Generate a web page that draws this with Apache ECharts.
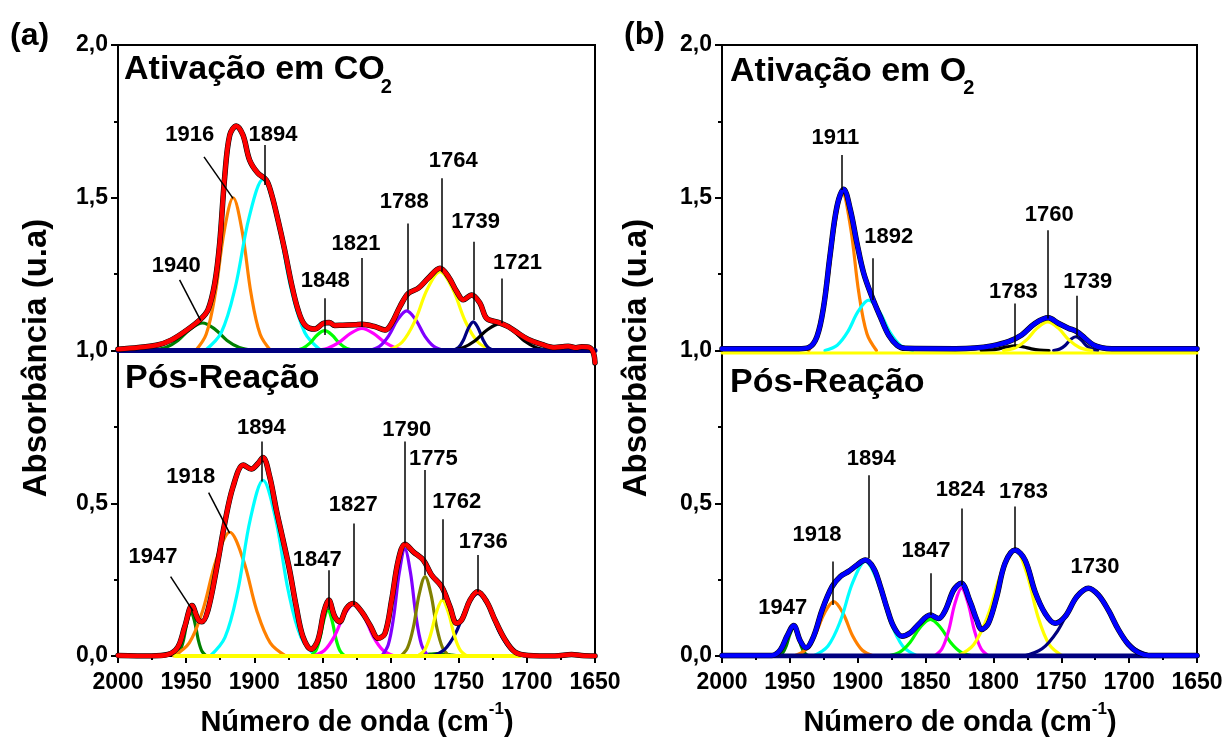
<!DOCTYPE html>
<html><head><meta charset="utf-8">
<script src="https://cdn.jsdelivr.net/npm/echarts@6/dist/echarts.min.js"></script>
<style>html,body{margin:0;padding:0;background:#fff}#c{width:1225px;height:740px}</style>
</head><body><div id="c"></div>
<script>
// ===================== DATA =====================
const xTicks = [2000, 1950, 1900, 1850, 1800, 1750, 1700, 1650];
const yTicks = [0, 0.5, 1.0, 1.5, 2.0];
const yTickLabels = ['0,0', '0,5', '1,0', '1,5', '2,0'];
const topOffset = 1.0;   // upper spectra are shifted by +1,0

// ---- Panel (a), top: Ativação em CO2 (values relative to the 1,0 offset) ----
const a1Exp = [[2000,0.004],[1985,0.01],[1971,0.018],[1961,0.034],[1951,0.062],[1940,0.1],[1934,0.133],[1929,0.22],[1925.4,0.35],[1921.7,0.569],[1918,0.705],[1913.2,0.735],[1908.3,0.705],[1903.4,0.623],[1897.3,0.58],[1891.2,0.558],[1887.5,0.514],[1882.6,0.427],[1877.7,0.329],[1872.8,0.22],[1867.9,0.133],[1863,0.084],[1855.7,0.07],[1849.6,0.088],[1845,0.092],[1841,0.082],[1835,0.083],[1826.1,0.084],[1821.2,0.086],[1811.4,0.078],[1804.1,0.067],[1799.2,0.089],[1793.1,0.144],[1787,0.187],[1779.6,0.204],[1772.3,0.237],[1763.7,0.269],[1757.6,0.242],[1751.5,0.193],[1746.6,0.166],[1740.5,0.182],[1734.4,0.155],[1729.5,0.105],[1720.9,0.092],[1713.6,0.078],[1706.3,0.056],[1698.9,0.036],[1689.1,0.02],[1679.4,0.01],[1674,0.012],[1669.6,0.014],[1664,0.009],[1659.8,0.012],[1653.7,0.009],[1651,-0.01],[1650,-0.04]];
const a1c1940 = [[1975.5,0],[1965,0.0095],[1956,0.033],[1947,0.07],[1938,0.09],[1929,0.07],[1920,0.033],[1911,0.0095],[1900.5,0]];
const a1c1916 = [[1943,0],[1935.3,0.053],[1928.7,0.184],[1922.1,0.39],[1915.5,0.5],[1908.9,0.39],[1902.3,0.184],[1895.7,0.053],[1888,0]];
const a1c1894 = [[1936.1,0],[1924.2,0.059],[1914,0.206],[1903.8,0.436],[1893.6,0.56],[1883.4,0.436],[1873.2,0.206],[1863,0.059],[1851.1,0]];
const a1c1848 = [[1870.9,0],[1864.6,0.0069],[1859.2,0.024],[1853.8,0.051],[1848.4,0.065],[1843,0.051],[1837.6,0.024],[1832.2,0.0069],[1825.9,0]];
const a1c1821 = [[1856,0],[1846.2,0.0076],[1837.8,0.0265],[1829.4,0.056],[1821,0.072],[1812.6,0.056],[1804.2,0.0265],[1795.8,0.0076],[1786,0]];
const a1c1788 = [[1815.7,0],[1808,0.0138],[1801.4,0.048],[1794.8,0.101],[1788.2,0.13],[1781.6,0.101],[1775,0.048],[1768.4,0.0138],[1760.7,0]];
const a1c1764 = [[1802.5,0],[1791.6,0.027],[1782.3,0.095],[1773,0.201],[1763.7,0.258],[1754.4,0.201],[1745.1,0.095],[1735.8,0.027],[1725,0]];
const a1c1739 = [[1754.3,0],[1750.1,0.01],[1746.5,0.0346],[1742.9,0.073],[1739.3,0.094],[1735.7,0.073],[1732.1,0.0346],[1728.5,0.01],[1724.3,0]];
const a1c1721 = [[1757.5,0],[1747,0.0092],[1738,0.032],[1729,0.068],[1720,0.087],[1711,0.068],[1702,0.032],[1693,0.0092],[1682.5,0]];
const a1Base = [[2000,0],[1650,0]];

// ---- Panel (a), bottom: Pós-Reação ----
const a2Exp = [[2000,0.002],[1975.5,0],[1963.3,0.005],[1956,0.03],[1951.1,0.095],[1945.7,0.165],[1941.3,0.12],[1938.4,0.112],[1934,0.15],[1927.9,0.281],[1921.7,0.434],[1915.6,0.554],[1908,0.625],[1902.2,0.612],[1897.3,0.63],[1893.6,0.65],[1888.7,0.587],[1883.8,0.478],[1878.9,0.38],[1874.1,0.281],[1869.2,0.161],[1864.3,0.063],[1858.2,0.022],[1853.3,0.052],[1848.9,0.145],[1845.4,0.183],[1841,0.129],[1837.4,0.112],[1832.5,0.155],[1827.6,0.172],[1821.2,0.145],[1815.1,0.101],[1809,0.058],[1804.1,0.074],[1799.2,0.183],[1794.3,0.314],[1789.4,0.366],[1783.3,0.341],[1776,0.314],[1769.9,0.265],[1762.5,0.227],[1756.4,0.161],[1751.5,0.107],[1747.8,0.118],[1741.7,0.183],[1736.1,0.21],[1729.5,0.178],[1723.4,0.118],[1716.1,0.054],[1708.7,0.013],[1698.9,0.002],[1679.4,0],[1667.1,0.005],[1660,0.002],[1650,0]];
const a2c1947 = [[1957.75,0],[1954.6,0.0154],[1951.9,0.053],[1949.2,0.113],[1946.5,0.145],[1943.8,0.113],[1941.1,0.053],[1938.4,0.0154],[1935.25,0]];
const a2c1918 = [[1959.25,0],[1947.7,0.043],[1937.8,0.149],[1927.9,0.315],[1918,0.405],[1908.1,0.315],[1898.2,0.149],[1888.3,0.043],[1876.75,0]];
const a2c1894 = [[1932.35,0],[1921.5,0.061],[1912.2,0.212],[1902.9,0.448],[1893.6,0.575],[1884.3,0.448],[1875,0.212],[1865.7,0.061],[1854.85,0]];
const a2c1847 = [[1858.5,0],[1855,0.016],[1852,0.055],[1849,0.117],[1846,0.15],[1843,0.117],[1840,0.055],[1837,0.016],[1833.5,0]];
const a2c1827 = [[1857,0],[1848.6,0.018],[1841.4,0.0626],[1834.2,0.132],[1827,0.17],[1819.8,0.132],[1812.6,0.0626],[1805.4,0.018],[1797,0]];
const a2c1790 = [[1806.5,0],[1801.7,0.037],[1797.7,0.129],[1793.6,0.273],[1789.5,0.35],[1785.4,0.273],[1781.3,0.129],[1777.3,0.037],[1772.5,0]];
const a2c1775 = [[1792.45,0],[1787.5,0.0276],[1783.2,0.0957],[1779,0.2025],[1774.7,0.26],[1770.4,0.2025],[1766.2,0.0957],[1761.9,0.0276],[1756.95,0]];
const a2c1762 = [[1780.25,0],[1775.1,0.0194],[1770.8,0.0673],[1766.4,0.1426],[1762,0.183],[1757.6,0.1426],[1753.2,0.0673],[1748.9,0.0194],[1743.75,0]];
const a2c1736 = [[1769.75,0],[1760.3,0.0217],[1752.2,0.0754],[1744.1,0.16],[1736,0.205],[1727.9,0.16],[1719.8,0.0754],[1711.7,0.0217],[1702.25,0]];
const a2c1766 = [[1788.5,0],[1782.2,0.0008],[1776.8,0.003],[1771.4,0.006],[1766,0.008],[1760.6,0.006],[1755.2,0.003],[1749.8,0.0008],[1743.5,0]];
const a2Base = [[1958,0],[1705,0]];

// ---- Panel (b), top: Ativação em O2 (relative to the 1,0 offset) ----
const b1Fit = [[2000,0.006],[1943.5,0.006],[1936.1,0.01],[1930,0.046],[1925.1,0.144],[1920.2,0.318],[1915.3,0.471],[1910.3,0.528],[1905.4,0.46],[1900.5,0.35],[1895.6,0.253],[1889.5,0.176],[1883.3,0.11],[1877.2,0.05],[1871,0.017],[1864.9,0.007],[1828,0.006],[1813.6,0.008],[1801.3,0.015],[1789,0.029],[1779.2,0.051],[1769.3,0.089],[1759.5,0.107],[1752.2,0.089],[1744.8,0.073],[1738.6,0.062],[1732.5,0.04],[1726.4,0.018],[1720.2,0.009],[1712.9,0.006],[1650,0.006]];
const b1c1911 = [[1936.2,0],[1929.2,0.0546],[1923.2,0.1895],[1917.2,0.401],[1911.2,0.515],[1905.2,0.401],[1899.2,0.1895],[1893.2,0.0546],[1886.2,0]];
const b1c1892 = [[1924.15,0],[1915.1,0.0175],[1907.4,0.0607],[1899.6,0.1285],[1891.9,0.165],[1884.2,0.1285],[1876.4,0.0607],[1868.7,0.0175],[1859.65,0]];
const b1c1783 = [[1809,0],[1802,0.0016],[1796,0.0055],[1790,0.0117],[1784,0.015],[1778,0.0117],[1772,0.0055],[1766,0.0016],[1759,0]];
const b1c1760 = [[1792.5,0],[1783.4,0.01],[1775.6,0.0346],[1767.8,0.0732],[1760,0.094],[1752.2,0.0732],[1744.4,0.0346],[1736.6,0.01],[1727.5,0]];
const b1c1739 = [[1755.65,0],[1751.1,0.0048],[1747.2,0.0166],[1743.3,0.035],[1739.4,0.045],[1735.5,0.035],[1731.6,0.0166],[1727.7,0.0048],[1723.15,0]];
const b1Base = [[2000,-0.008],[1650,-0.008]];

// ---- Panel (b), bottom: Pós-Reação ----
const b2Fit = [[2000,0.002],[1963.2,0.002],[1957,0.02],[1952.1,0.065],[1947.2,0.1],[1942.3,0.049],[1938.1,0.027],[1932.4,0.065],[1926.3,0.15],[1918.9,0.227],[1912.8,0.26],[1906.7,0.277],[1900.5,0.298],[1894.4,0.314],[1888.2,0.287],[1883.3,0.227],[1878.4,0.156],[1873.5,0.096],[1867.4,0.065],[1861.2,0.076],[1855.1,0.104],[1846.5,0.134],[1840.3,0.123],[1835.4,0.15],[1829.3,0.216],[1823.8,0.238],[1817.2,0.178],[1812.3,0.118],[1808.7,0.087],[1803.7,0.107],[1797.6,0.194],[1791.5,0.303],[1784.1,0.347],[1776.7,0.314],[1769.3,0.21],[1762,0.14],[1754.6,0.107],[1747.2,0.129],[1738.6,0.194],[1730,0.222],[1722.7,0.2],[1715.3,0.15],[1708,0.087],[1700.6,0.038],[1693.2,0.011],[1685.8,0.002],[1650,0.002]];
const b2c1947 = [[1958.45,0],[1955.3,0.0098],[1952.6,0.0339],[1949.9,0.0717],[1947.2,0.092],[1944.5,0.0717],[1941.8,0.0339],[1939.1,0.0098],[1935.95,0]];
const b2c1918 = [[1946.95,0],[1938.8,0.0189],[1931.7,0.0655],[1924.7,0.1387],[1917.7,0.178],[1910.7,0.1387],[1903.7,0.0655],[1896.6,0.0189],[1888.45,0]];
const b2c1894 = [[1932.65,0],[1921.9,0.0329],[1912.8,0.114],[1903.6,0.2415],[1894.4,0.31],[1885.2,0.2415],[1876,0.114],[1866.9,0.0329],[1856.15,0]];
const b2c1847 = [[1877.75,0],[1869,0.0127],[1861.5,0.0442],[1854,0.0935],[1846.5,0.12],[1839,0.0935],[1831.5,0.0442],[1824,0.0127],[1815.25,0]];
const b2c1824 = [[1843.5,0],[1837.9,0.0235],[1833.1,0.0817],[1828.3,0.173],[1823.5,0.222],[1818.7,0.173],[1813.9,0.0817],[1809.1,0.0235],[1803.5,0]];
const b2c1783 = [[1826.5,0],[1814.6,0.0371],[1804.4,0.1288],[1794.2,0.2727],[1784,0.35],[1775.6,0.2727],[1767.2,0.1288],[1758.8,0.0371],[1749,0]];
const b2c1730 = [[1777.5,0],[1764.2,0.0235],[1752.8,0.0817],[1741.4,0.173],[1730,0.222],[1718.6,0.173],[1707.2,0.0817],[1695.8,0.0235],[1682.5,0]];
const b2Base = [[2000,0],[1650,0]];

// ---- Peak annotations: [text, label wavenumber, label absorbance, pointer from (wn, A), pointer to (wn, A)] ----
const annA = [
  ['1916', 1947.4, 1.705, 1936.9, 1.634, 1915.6, 1.498],
  ['1894', 1886.3, 1.705, 1892.4, 1.673, 1892.4, 1.542],
  ['1940', 1957.2, 1.277, 1954.8, 1.231, 1939.3, 1.098],
  ['1848', 1847.9, 1.229, 1848.4, 1.171, 1848.4, 1.051],
  ['1821', 1825.4, 1.349, 1821, 1.303, 1821, 1.077],
  ['1788', 1789.9, 1.487, 1787.7, 1.416, 1787.7, 1.133],
  ['1764', 1754, 1.621, 1762.5, 1.564, 1762.5, 1.258],
  ['1739', 1737.6, 1.422, 1739.3, 1.356, 1739.3, 1.1],
  ['1721', 1706.8, 1.285, 1718.5, 1.236, 1718.5, 1.089],
  ['1947', 1974.3, 0.325, 1961.4, 0.26, 1945, 0.148],
  ['1918', 1946.7, 0.585, 1933.5, 0.535, 1918.1, 0.402],
  ['1894', 1894.8, 0.745, 1894.8, 0.702, 1894.8, 0.571],
  ['1847', 1853.8, 0.314, 1845.4, 0.281, 1845.4, 0.151],
  ['1827', 1827.4, 0.494, 1826.8, 0.434, 1826.8, 0.167],
  ['1790', 1788.2, 0.74, 1789.4, 0.702, 1789.4, 0.369],
  ['1775', 1768.6, 0.644, 1774.7, 0.609, 1774.7, 0.265],
  ['1762', 1751.5, 0.505, 1762, 0.448, 1762, 0.184],
  ['1736', 1732, 0.374, 1736.1, 0.331, 1736.1, 0.21]
];
const annB = [
  ['1911', 1916.5, 1.695, 1911.6, 1.64, 1911.6, 1.525],
  ['1892', 1877.2, 1.373, 1889, 1.302, 1889, 1.165],
  ['1760', 1758.8, 1.444, 1760, 1.394, 1760, 1.105],
  ['1783', 1785.3, 1.193, 1784.1, 1.154, 1784.1, 1.012],
  ['1739', 1730.5, 1.225, 1738.6, 1.179, 1738.6, 1.045],
  ['1947', 1955.3, 0.156],
  ['1918', 1930, 0.396, 1918.4, 0.309, 1918.4, 0.167],
  ['1894', 1890, 0.644, 1891.9, 0.592, 1891.9, 0.32],
  ['1847', 1849.7, 0.345, 1846.5, 0.271, 1846.5, 0.134],
  ['1824', 1824.5, 0.543, 1823.4, 0.483, 1823.4, 0.232],
  ['1783', 1777.9, 0.538, 1784.1, 0.489, 1784.1, 0.352],
  ['1730', 1725.1, 0.292]
];

// ===================== STYLE / BUILD =====================
const FONT = '"Liberation Sans", Arial, "DejaVu Sans", sans-serif';
const C = {
  dgreen: '#008000', orange: '#FF8000', cyan: '#00FFFF', lime: '#00FF00', magenta: '#FF00FF',
  violet: '#8000FF', yellow: '#FFFF00', navy: '#000080', black: '#000000', olive: '#808000',
  red: '#FF0000', blue: '#0000FF'
};

const panels = [
  { grid: 0, spectra: [
      { offset: topOffset, comps: [[a1c1940,C.dgreen],[a1c1916,C.orange],[a1c1894,C.cyan],[a1c1848,C.lime],[a1c1821,C.magenta],[a1c1788,C.violet],[a1c1764,C.yellow],[a1c1739,C.navy],[a1c1721,C.black]],
        base: [a1Base, C.navy, 5], env: [a1Exp, C.red] },
      { offset: 0, comps: [[a2c1766,C.dgreen],[a2c1947,C.dgreen],[a2c1918,C.orange],[a2c1894,C.cyan],[a2c1847,C.lime],[a2c1827,C.magenta],[a2c1790,C.violet],[a2c1775,C.olive],[a2c1736,C.navy],[a2c1762,C.yellow]],
        base: [a2Base, C.yellow, 4], env: [a2Exp, C.red] }
    ], ann: annA },
  { grid: 1, spectra: [
      { offset: topOffset, comps: [[b1c1911,C.orange],[b1c1892,C.cyan],[b1c1783,C.black],[b1c1739,C.navy],[b1c1760,C.yellow]],
        base: [b1Base, C.yellow, 3], env: [b1Fit, C.blue] },
      { offset: 0, comps: [[b2c1947,C.dgreen],[b2c1918,C.orange],[b2c1894,C.cyan],[b2c1847,C.lime],[b2c1824,C.magenta],[b2c1783,C.yellow],[b2c1730,C.navy]],
        base: [b2Base, C.navy, 5], env: [b2Fit, C.blue] }
    ], ann: annB }
];

const series = [];
function lineSeries(g, pts, off, color, width, z) {
  return { type: 'line', xAxisIndex: g, yAxisIndex: g, data: pts.map(p => [p[0], p[1] + off]),
    symbol: 'none', smooth: 0.35, lineStyle: { color, width, cap: 'round', join: 'round' },
    z, silent: true, animation: false };
}
panels.forEach(P => {
  P.spectra.forEach(S => {
    S.comps.forEach(([pts, col]) => series.push(lineSeries(P.grid, pts, S.offset, col, 3.2, 2)));
    series.push(lineSeries(P.grid, S.base[0], S.offset, S.base[1], S.base[2], 3));
    series.push(lineSeries(P.grid, S.env[0], S.offset, C.black, 5.5, 4));   // black trace underneath
    series.push(lineSeries(P.grid, S.env[0], S.offset, S.env[1], 4.5, 5));
  });
  series.push({ type: 'lines', coordinateSystem: 'cartesian2d', xAxisIndex: P.grid, yAxisIndex: P.grid,
    data: P.ann.filter(a => a.length > 3).map(a => ({ coords: [[a[3], a[4]], [a[5], a[6]]] })),
    lineStyle: { color: '#000', width: 1.5, opacity: 1, curveness: 0 }, z: 8, silent: true, animation: false });
  series.push({ type: 'scatter', xAxisIndex: P.grid, yAxisIndex: P.grid,
    data: P.ann.map(a => [a[1], a[2], a[0]]), symbolSize: 1, itemStyle: { color: '#fff', opacity: 1 },
    label: { show: true, position: 'inside', formatter: p => p.data[2], color: '#000', opacity: 1,
      textBorderWidth: 0, textShadowBlur: 0,
      fontFamily: FONT, fontWeight: 'bold', fontSize: 22 }, z: 9, silent: true, animation: false });
});

const axisCommonX = g => ({
  type: 'value', gridIndex: g, min: xTicks[xTicks.length - 1], max: xTicks[0], interval: 50, inverse: true,
  axisLine: { show: true, onZero: false, lineStyle: { color: '#000', width: 2 } },
  axisTick: { show: true, inside: false, length: 7, lineStyle: { color: '#000', width: 2 } },
  minorTick: { show: true, splitNumber: 2, length: 4, lineStyle: { color: '#000', width: 2 } },
  axisLabel: { interval: 0, margin: 15, color: '#000', fontFamily: FONT, fontWeight: 'bold', fontSize: 23,
    formatter: v => String(v) },
  splitLine: { show: false }, minorSplitLine: { show: false }
});
const axisCommonY = g => ({
  type: 'value', gridIndex: g, min: yTicks[0], max: yTicks[yTicks.length - 1], interval: 0.5,
  axisLine: { show: true, onZero: false, lineStyle: { color: '#000', width: 2 } },
  axisTick: { show: true, inside: false, length: 7, lineStyle: { color: '#000', width: 2 } },
  minorTick: { show: true, splitNumber: 2, length: 4, lineStyle: { color: '#000', width: 2 } },
  axisLabel: { margin: 10, color: '#000', fontFamily: FONT, fontWeight: 'bold', fontSize: 23,
    formatter: v => { const i = yTicks.findIndex(t => Math.abs(t - v) < 1e-9); return i >= 0 ? yTickLabels[i] : ''; } },
  splitLine: { show: false }, minorSplitLine: { show: false }
});

function measure(txt, font) {
  const ctx = document.createElement('canvas').getContext('2d');
  ctx.font = font; return ctx.measureText(txt).width;
}
const titleFont = 'bold 34px ' + FONT;
const wCO = measure('Ativação em CO', titleFont);
const wO = measure('Ativação em O', titleFont);

const txt = (x, y, text, size, extra) => Object.assign({
  type: 'text', x, y, silent: true, z: 20,
  style: { text, fill: '#000', font: 'bold ' + size + 'px ' + FONT, textAlign: 'left', textVerticalAlign: 'middle' }
}, extra || {});

const xName = (cx) => ({
  type: 'text', x: cx, y: 719, silent: true, z: 20,
  style: { text: '{m|Número de onda (cm}{s|-1}{m|)}', fill: '#000', textAlign: 'center', textVerticalAlign: 'middle',
    rich: { m: { fontFamily: FONT, fontWeight: 'bold', fontSize: 29, lineHeight: 36, fill: '#000', verticalAlign: 'bottom' },
            s: { fontFamily: FONT, fontWeight: 'bold', fontSize: 17, lineHeight: 17, fill: '#000', verticalAlign: 'top' } } }
});
const yName = (cx) => ({
  type: 'text', x: cx, y: 358, rotation: Math.PI / 2, silent: true, z: 20,
  style: { text: 'Absorbância (u.a)', fill: '#000', font: 'bold 33px ' + FONT, textAlign: 'center', textVerticalAlign: 'middle' }
});

const chart = echarts.init(document.getElementById('c'), null, { renderer: 'canvas' });
chart.setOption({
  backgroundColor: '#fff',
  animation: false,
  grid: [
    { left: 118, top: 45, width: 477, height: 611, show: true, borderColor: '#000', borderWidth: 2, backgroundColor: 'transparent', outerBoundsMode: 'none', containLabel: false },
    { left: 722, top: 45, width: 475, height: 611, show: true, borderColor: '#000', borderWidth: 2, backgroundColor: 'transparent', outerBoundsMode: 'none', containLabel: false }
  ],
  xAxis: [axisCommonX(0), axisCommonX(1)],
  yAxis: [axisCommonY(0), axisCommonY(1)],
  series,
  graphic: [
    txt(10, 36, '(a)', 32),
    txt(624, 35, '(b)', 32),
    txt(124, 70, 'Ativação em CO', 34),
    txt(124 + wCO - 4, 87, '2', 20),
    txt(125, 379, 'Pós-Reação', 34),
    txt(730, 72, 'Ativação em O', 34),
    txt(730 + wO - 3, 88, '2', 20),
    txt(730, 383, 'Pós-Reação', 34),
    xName(357), xName(960),
    yName(37), yName(637)
  ]
});
</script>
</body></html>
